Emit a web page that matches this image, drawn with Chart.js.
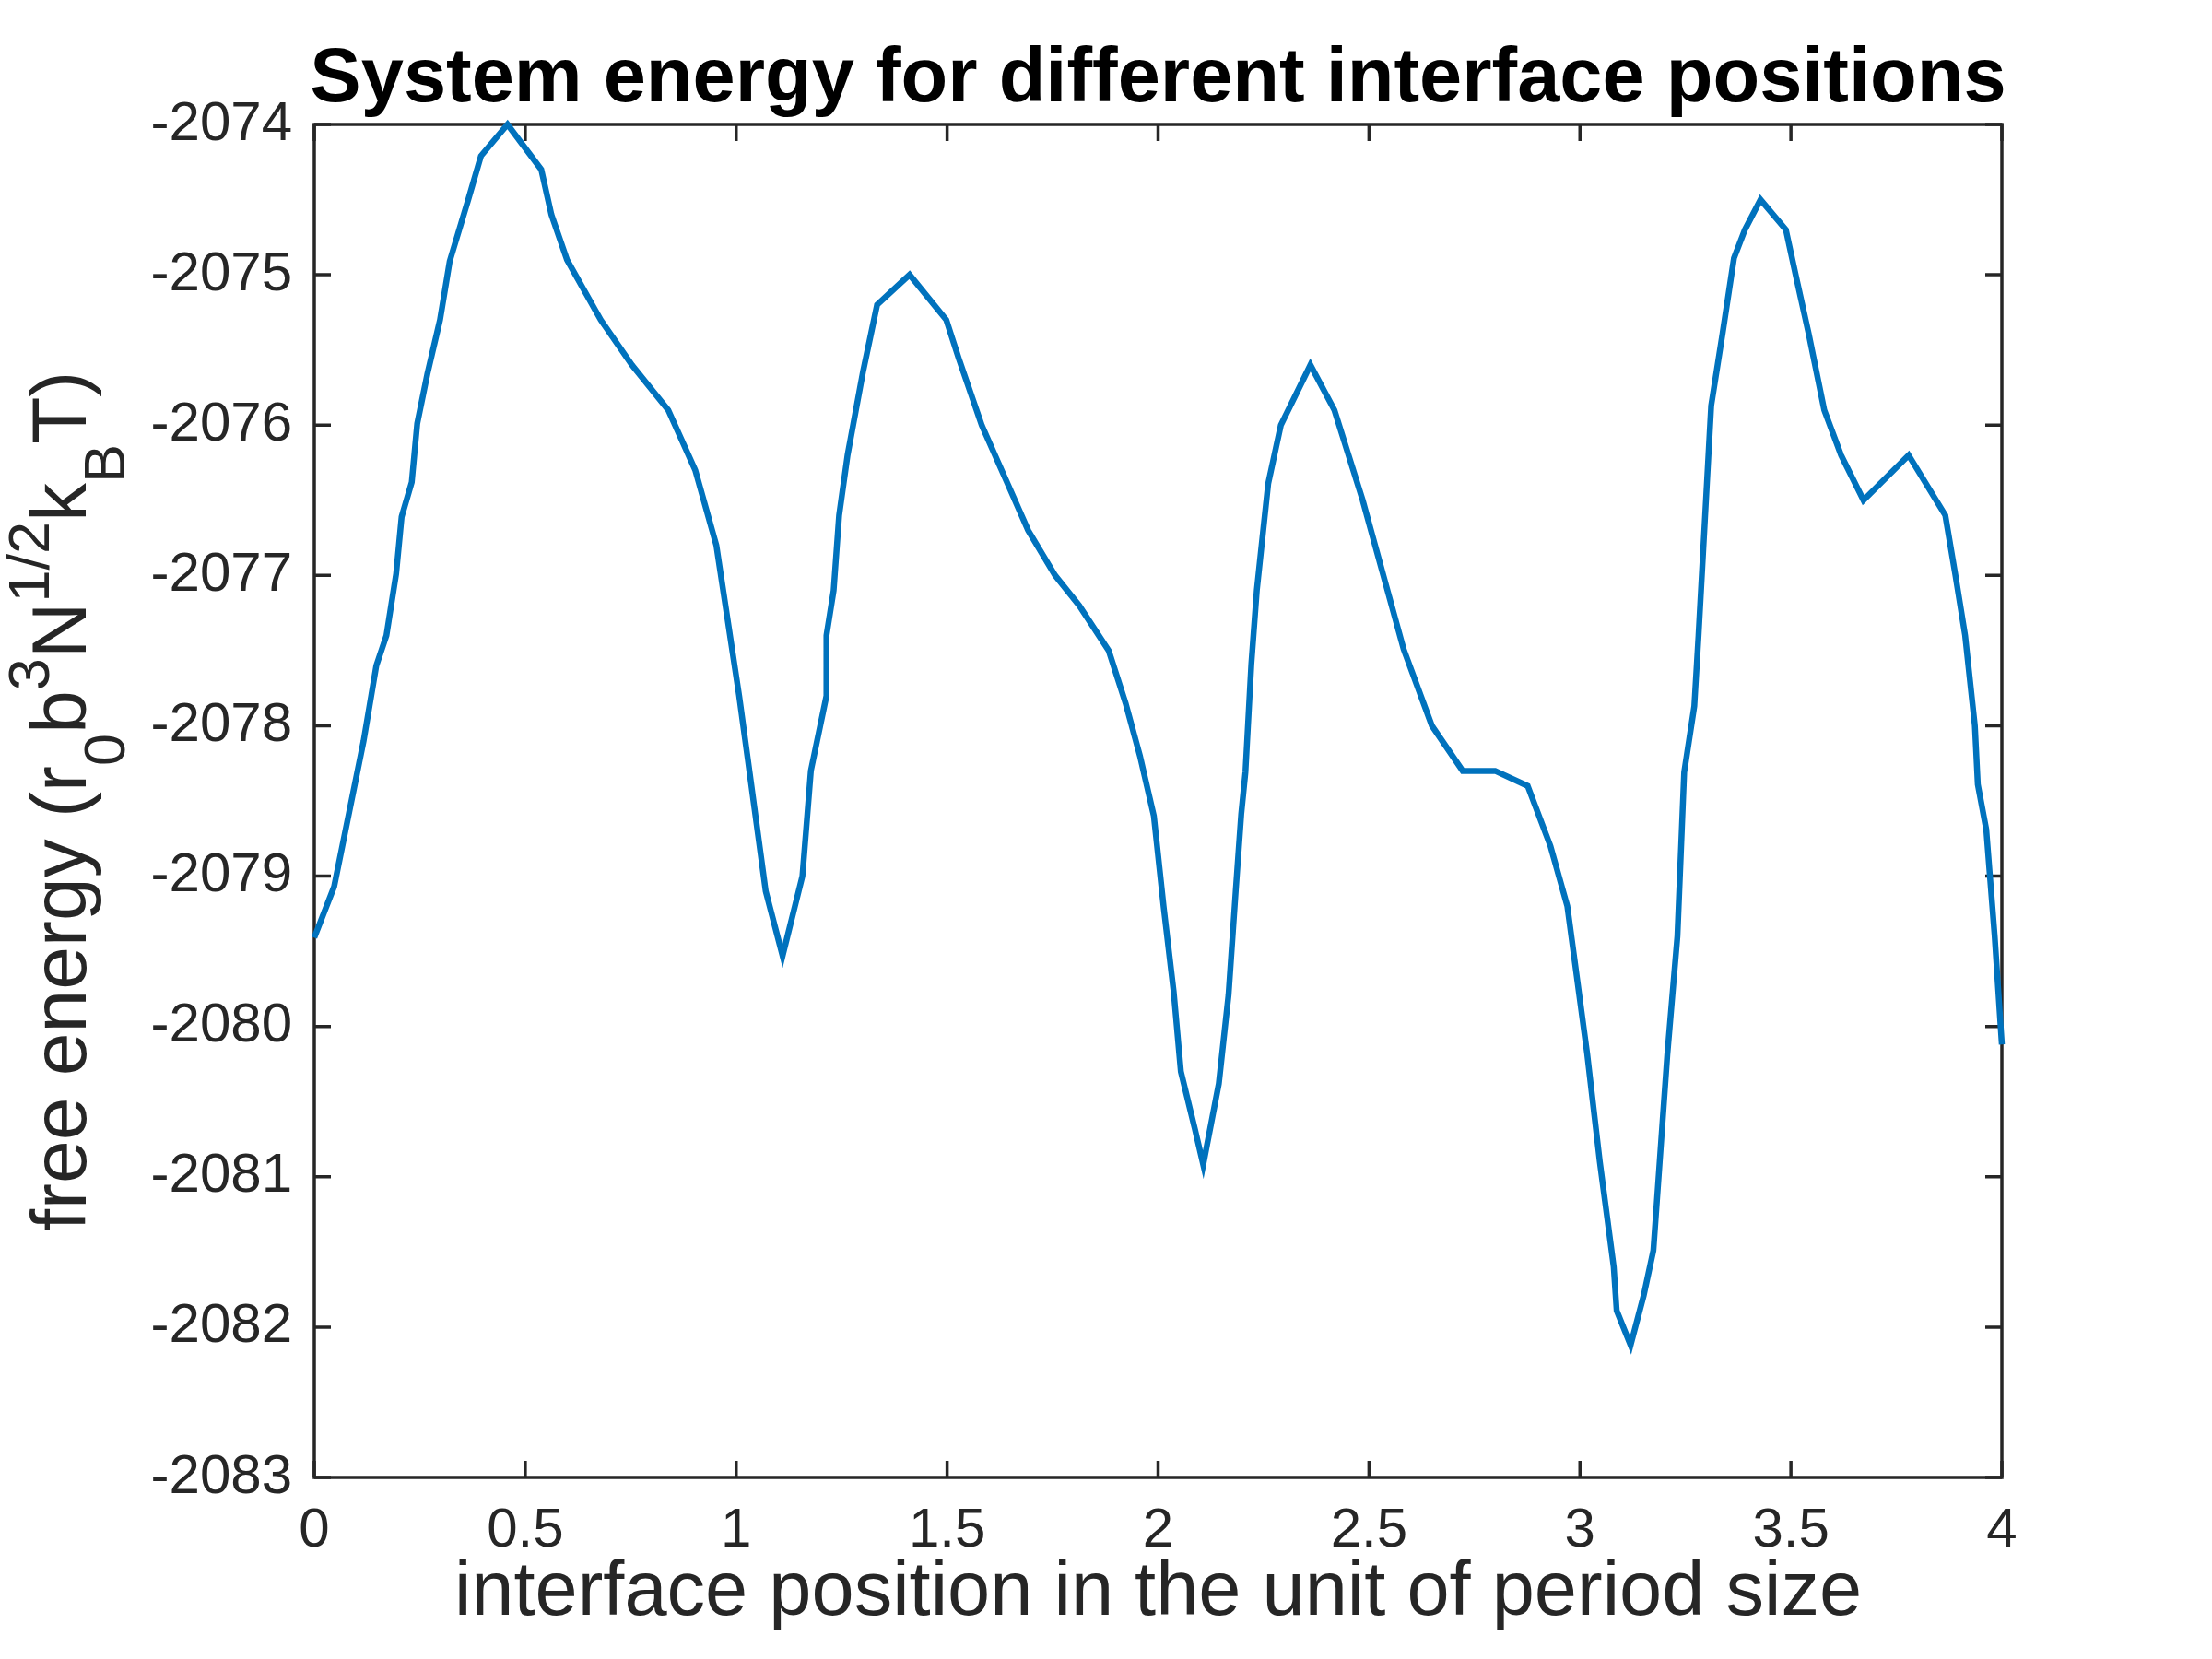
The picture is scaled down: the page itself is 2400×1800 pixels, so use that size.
<!DOCTYPE html>
<html>
<head>
<meta charset="utf-8">
<script src="https://cdn.jsdelivr.net/npm/chart.js@4.4.1/dist/chart.umd.min.js"></script>
<style>
  html, body { margin: 0; padding: 0; background: #fff; }
</style>
</head>
<body>
<canvas id="energyChart" width="2400" height="1800"></canvas>
<script>
// interface position (unit of period size)
const xPos = [
  0, 0.047, 0.117, 0.147, 0.171, 0.194, 0.207, 0.231, 0.244, 0.268,
  0.298, 0.321, 0.365, 0.395, 0.458, 0.538, 0.562, 0.599, 0.679, 0.753,
  0.839, 0.903, 0.953, 1.007, 1.027, 1.070, 1.110, 1.157, 1.177, 1.214,
  1.214, 1.231, 1.244, 1.264, 1.301, 1.334, 1.411, 1.498, 1.528, 1.582,
  1.645, 1.692, 1.756, 1.813, 1.883, 1.923, 1.957, 1.990, 2.013, 2.037,
  2.054, 2.087, 2.107, 2.144, 2.167, 2.184, 2.197, 2.207, 2.221, 2.234,
  2.261, 2.291, 2.361, 2.418, 2.485, 2.582, 2.649, 2.722, 2.799, 2.876,
  2.930, 2.970, 3.017, 3.047, 3.080, 3.087, 3.120, 3.151, 3.174, 3.207,
  3.231, 3.247, 3.271, 3.281, 3.311, 3.338, 3.365, 3.391, 3.428, 3.488,
  3.512, 3.542, 3.579, 3.619, 3.672, 3.779, 3.866, 3.890, 3.913, 3.936,
  3.943, 3.963, 3.983, 4.0
];

// free energy values
const energy = [
  -2079.41, -2079.07, -2078.10, -2077.60, -2077.40, -2076.99, -2076.61, -2076.38, -2075.99, -2075.66,
  -2075.30, -2074.91, -2074.50, -2074.21, -2074.00, -2074.30, -2074.60, -2074.90, -2075.30, -2075.60,
  -2075.90, -2076.30, -2076.80, -2077.80, -2078.21, -2079.10, -2079.53, -2079.00, -2078.30, -2077.80,
  -2077.40, -2077.10, -2076.60, -2076.20, -2075.64, -2075.20, -2075.00, -2075.30, -2075.56, -2076.00,
  -2076.40, -2076.70, -2077.00, -2077.20, -2077.50, -2077.85, -2078.20, -2078.60, -2079.20, -2079.77,
  -2080.30, -2080.68, -2080.92, -2080.38, -2079.79, -2079.10, -2078.59, -2078.31, -2077.59, -2077.10,
  -2076.39, -2076.00, -2075.60, -2075.90, -2076.50, -2077.49, -2078.00, -2078.30, -2078.30, -2078.40,
  -2078.80, -2079.20, -2080.18, -2080.90, -2081.60, -2081.89, -2082.12, -2081.79, -2081.49, -2080.19,
  -2079.40, -2078.31, -2077.87, -2077.40, -2075.87, -2075.39, -2074.89, -2074.70, -2074.50, -2074.70,
  -2075.01, -2075.39, -2075.90, -2076.20, -2076.50, -2076.20, -2076.60, -2077.00, -2077.40, -2078.00,
  -2078.39, -2078.69, -2079.40, -2080.12
];

const xTicks = [0, 0.5, 1, 1.5, 2, 2.5, 3, 3.5, 4];
const yTicks = [-2083, -2082, -2081, -2080, -2079, -2078, -2077, -2076, -2075, -2074];

const chartTitle = 'System energy for different interface positions';
const xTitle = 'interface position in the unit of period size';
// y title pieces: text, kind (n = normal, sup, sub)
const yTitleParts = [
  ['free energy (r', 'n'], ['0', 'sub'], ['b', 'n'], ['3', 'sup'], ['N', 'n'],
  ['1/2', 'sup'], ['k', 'n'], ['B', 'sub'], ['T)', 'n']
];

const FONT = "'Liberation Sans', Helvetica, Arial, sans-serif";
const INK = '#262626';

// frame, inward ticks and text
const matlabAxes = {
  id: 'matlabAxes',
  beforeDatasetsDraw(chart) {
    const { ctx, chartArea: a, scales } = chart;
    const len = 18;
    ctx.save();
    ctx.strokeStyle = INK;
    ctx.lineWidth = 3.5;
    ctx.strokeRect(a.left, a.top, a.right - a.left, a.bottom - a.top);
    ctx.beginPath();
    xTicks.forEach(v => {
      const px = scales.x.getPixelForValue(v);
      ctx.moveTo(px, a.bottom); ctx.lineTo(px, a.bottom - len);
      ctx.moveTo(px, a.top); ctx.lineTo(px, a.top + len);
    });
    yTicks.forEach(v => {
      const py = scales.y.getPixelForValue(v);
      ctx.moveTo(a.left, py); ctx.lineTo(a.left + len, py);
      ctx.moveTo(a.right, py); ctx.lineTo(a.right - len, py);
    });
    ctx.stroke();
    ctx.restore();
  },
  afterDraw(chart) {
    const { ctx, chartArea: a } = chart;
    const cx = (a.left + a.right) / 2;
    const cy = (a.top + a.bottom) / 2;
    ctx.save();
    ctx.fillStyle = '#000';
    ctx.textAlign = 'center';
    ctx.textBaseline = 'alphabetic';
    ctx.font = 'bold 83px ' + FONT;
    ctx.fillText(chartTitle, cx, 110);

    ctx.fillStyle = INK;
    ctx.font = '83px ' + FONT;
    ctx.fillText(xTitle, cx, 1752);

    // rotated y title with super/subscripts
    const main = 84, small = 63;
    ctx.translate(93, cy);
    ctx.rotate(-Math.PI / 2);
    ctx.textAlign = 'left';
    let total = 0;
    yTitleParts.forEach(([t, k]) => {
      ctx.font = (k === 'n' ? main : small) + 'px ' + FONT;
      total += ctx.measureText(t).width;
    });
    let x = -total / 2;
    yTitleParts.forEach(([t, k]) => {
      ctx.font = (k === 'n' ? main : small) + 'px ' + FONT;
      const dy = k === 'sup' ? -40 : k === 'sub' ? 42 : 0;
      ctx.fillText(t, x, dy);
      x += ctx.measureText(t).width;
    });
    ctx.restore();
  }
};

new Chart(document.getElementById('energyChart'), {
  type: 'line',
  data: {
    datasets: [{
      data: xPos.map((x, i) => ({ x: x, y: energy[i] })),
      borderColor: '#0072BD',
      borderWidth: 6.5,
      borderJoinStyle: 'miter',
      pointRadius: 0,
      tension: 0,
      fill: false,
      clip: false
    }]
  },
  options: {
    responsive: false,
    devicePixelRatio: 1,
    animation: false,
    layout: { padding: { left: 0, top: 135, right: 228, bottom: 0 } },
    plugins: { legend: { display: false }, title: { display: false }, tooltip: { enabled: false } },
    scales: {
      x: {
        type: 'linear',
        min: 0, max: 4,
        afterBuildTicks: s => { s.ticks = xTicks.map(v => ({ value: v })); },
        afterFit: s => { s.height = 197; },
        grid: { display: false, drawTicks: false },
        border: { display: false },
        ticks: {
          padding: 22,
          color: INK,
          font: { family: FONT, size: 60 },
          maxRotation: 0,
          callback: v => String(v)
        }
      },
      y: {
        type: 'linear',
        min: -2083, max: -2074,
        afterBuildTicks: s => { s.ticks = yTicks.map(v => ({ value: v })); },
        afterFit: s => { s.width = 341; },
        grid: { display: false, drawTicks: false },
        border: { display: false },
        ticks: {
          padding: 24,
          color: INK,
          font: { family: FONT, size: 60 },
          callback: v => String(v)
        }
      }
    }
  },
  plugins: [matlabAxes]
});
</script>
</body>
</html>
